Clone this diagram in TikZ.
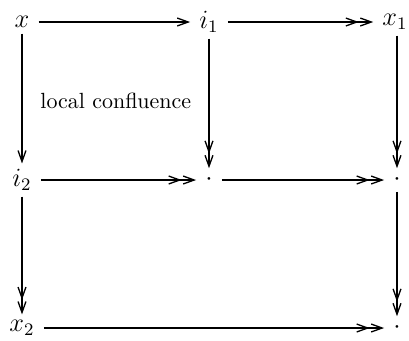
\documentclass[tikz,border=0pt]{standalone}
\usetikzlibrary{arrows.meta}
\begin{document}
\begin{tikzpicture}[x=0.16mm,y=-0.16mm,
  obj/.style={inner xsep=4pt,inner ysep=2.5pt,font=\large},
  thinarr/.style={line width=0.8pt},
  thickarr/.style={line width=1.2pt},
  tip/.tip={Straight Barb[length=5pt,width=3.6pt,line width=0.6pt]},
  one/.style={-tip},
  two/.style={-{tip[sep=0.4pt]tip}}]
\useasboundingbox (0,0) rectangle (409,340);
\node[obj] (x)  at (22,22)  {$x$};
\node[obj] (i1) at (209,22) {$i_1$};
\node[obj] (x1) at (395,22) {$x_1$};
\node[obj] (i2) at (22,180) {$i_2$};
\node[obj] (m)  at (209,180) {$\cdot$};
\node[obj] (r)  at (397,180) {$\cdot$};
\node[obj] (x2) at (22,328) {$x_2$};
\node[obj] (b)  at (397,328) {$\cdot$};
\node[anchor=west,inner sep=0pt] (lab) at (40,101) {local confluence};
\draw[thinarr,one] (x) -- (i1);
\draw[thinarr,two] (i1) -- (x1);
\draw[thickarr,one] (x) -- (i2);
\draw[thinarr,two] (i1) -- (m);
\draw[thinarr,two] (x1.south -| r) -- (r);
\draw[thinarr,two] (i2) -- (m);
\draw[thinarr,two] (m) -- (r);
\draw[thickarr,two] (i2) -- (x2);
\draw[thinarr,two] (r) -- (b);
\draw[thickarr,two] (x2) -- (b);
\end{tikzpicture}
\end{document}
